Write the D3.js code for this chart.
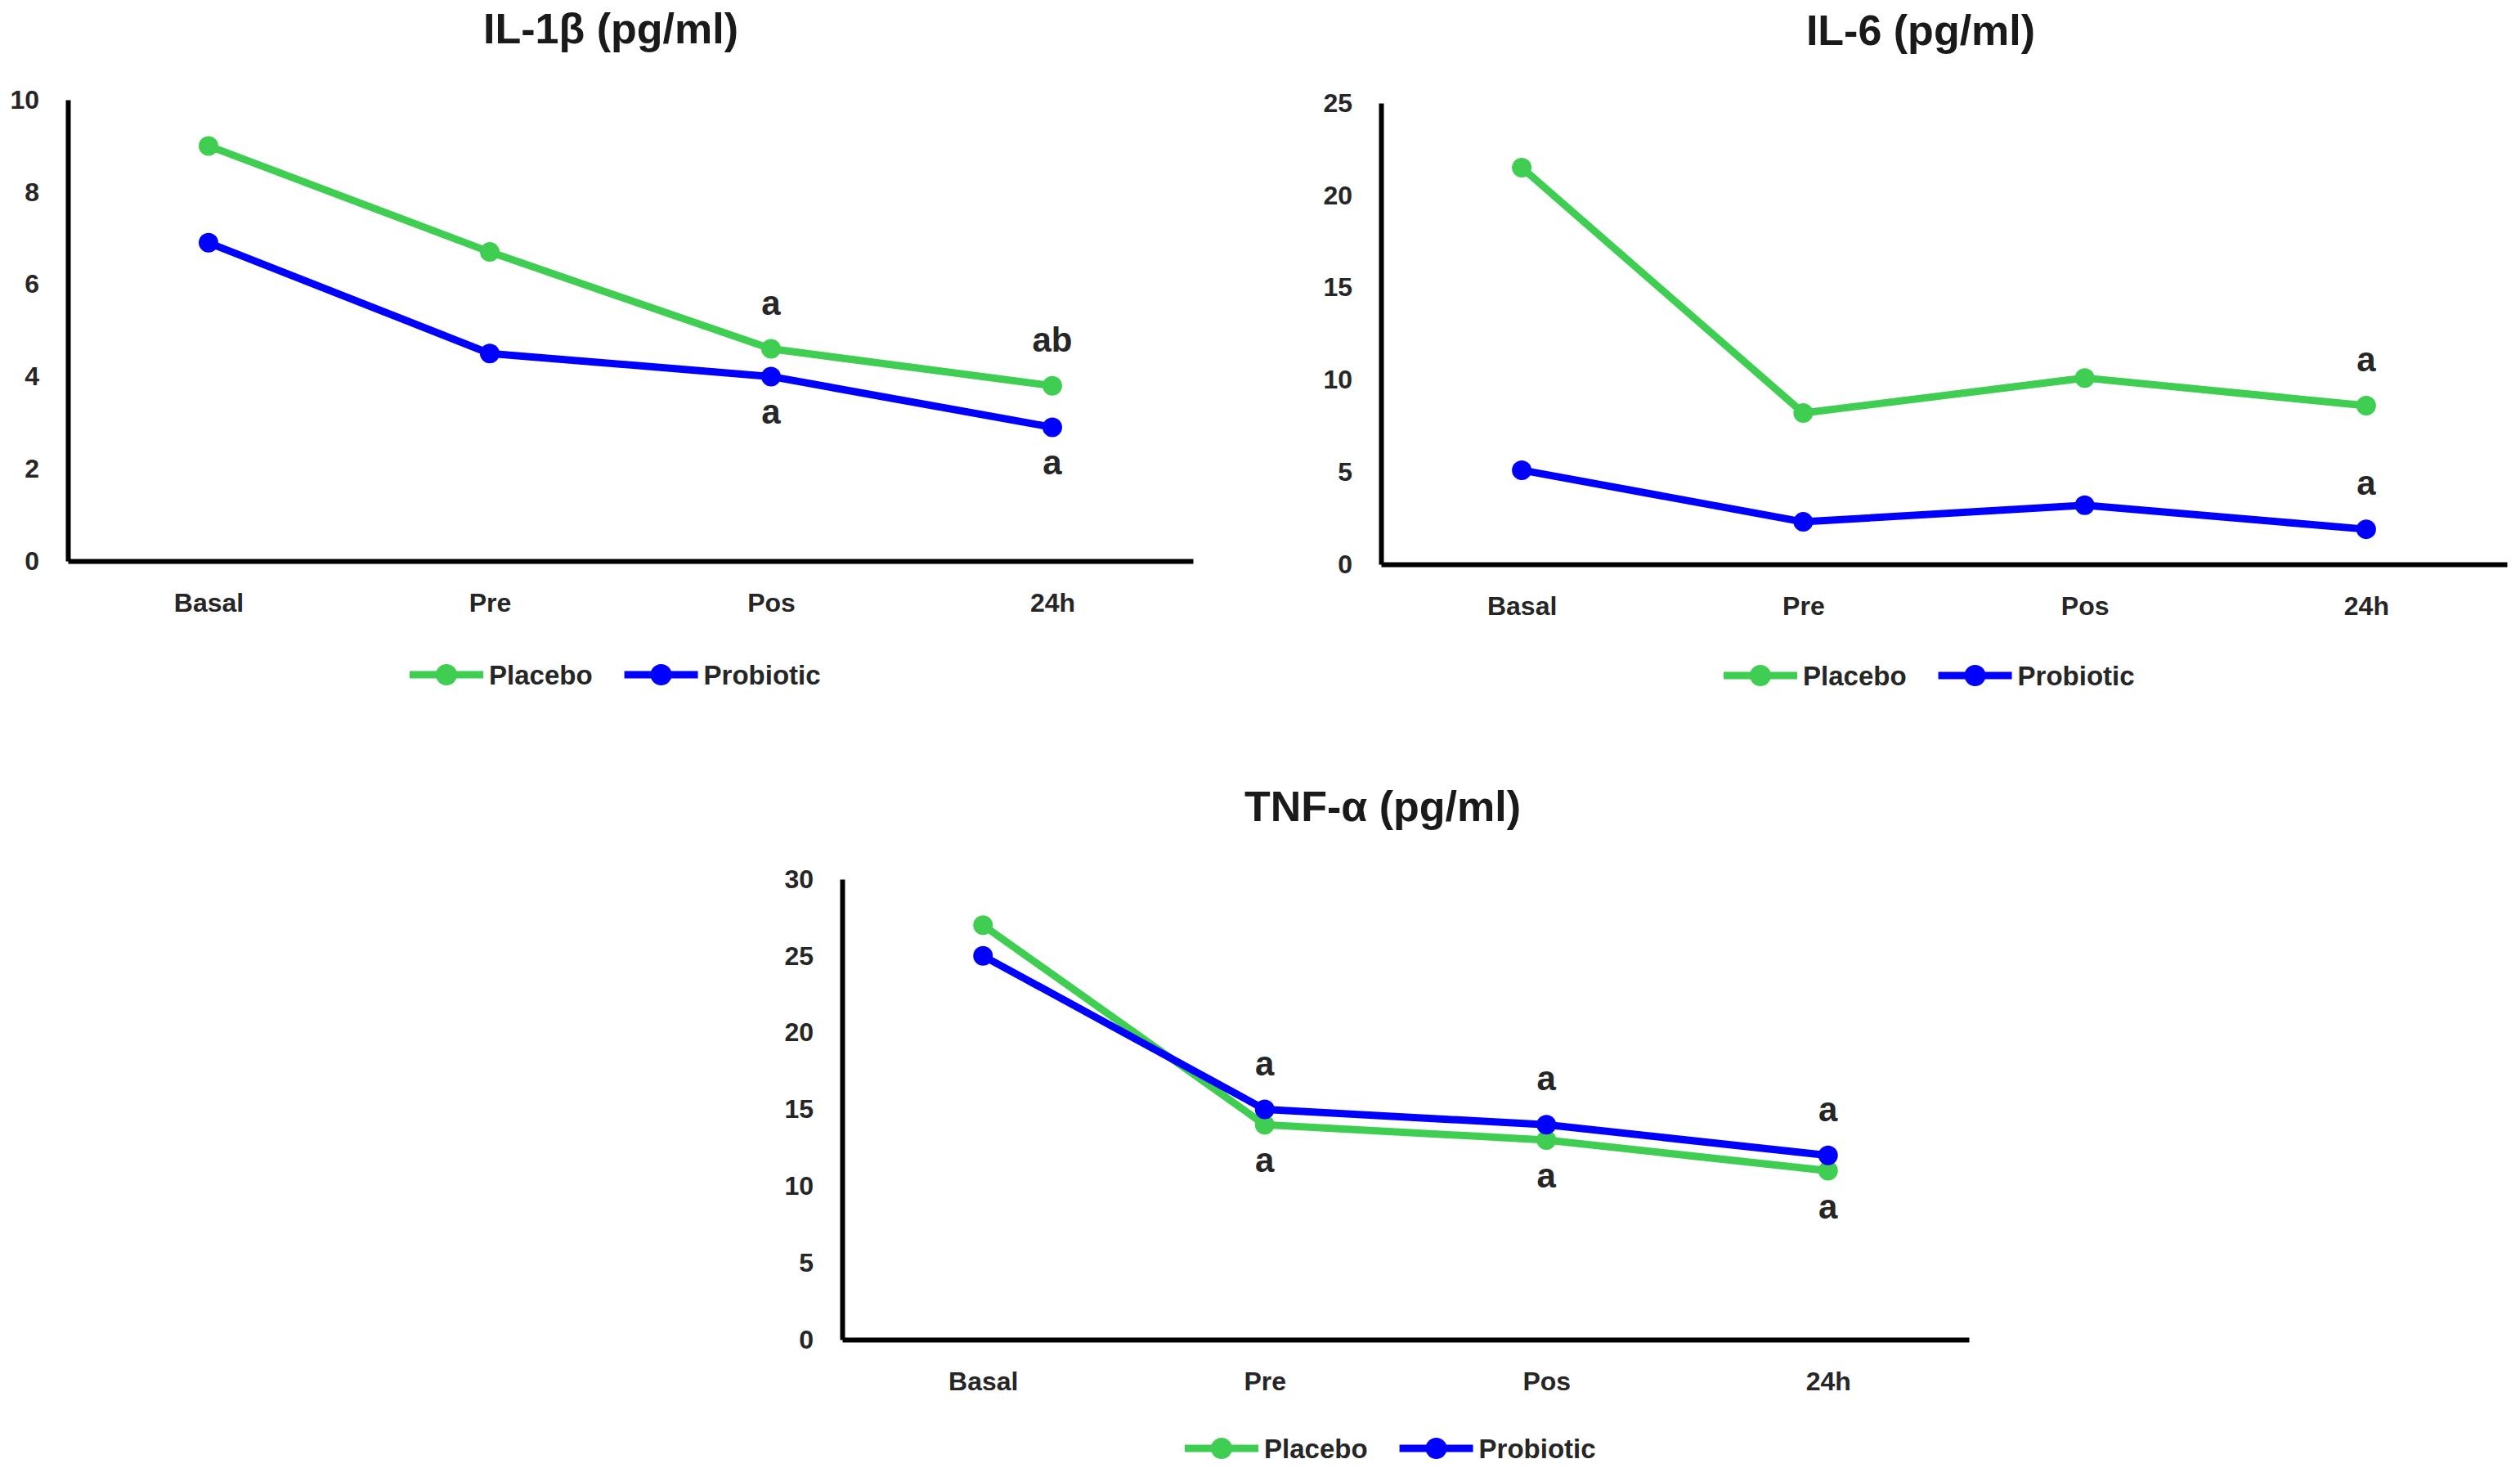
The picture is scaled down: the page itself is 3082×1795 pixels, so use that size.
<!DOCTYPE html>
<html>
<head>
<meta charset="utf-8">
<script src="https://cdn.jsdelivr.net/npm/d3@7"></script>
<style>
  body { margin: 0; background: #fff; }
  svg { display: block; }
</style>
</head>
<body>
<div id="wrapper"></div>
<script>
// values
const categories = ["Basal", "Pre", "Pos", "24h"];
const seriesNames = ["Placebo", "Probiotic"];
const seriesColors = ["#3fcd52", "#0000ff"];

const il1bPlacebo = [9.0, 6.7, 4.6, 3.8];
const il1bProbiotic = [6.9, 4.5, 4.0, 2.9];
const il1bTicks = [0, 2, 4, 6, 8, 10];
const il1bMarks = [
    { cat: "Pos", series: "Placebo", text: "a", side: "above" },
    { cat: "Pos", series: "Probiotic", text: "a", side: "below" },
    { cat: "24h", series: "Placebo", text: "ab", side: "above" },
    { cat: "24h", series: "Probiotic", text: "a", side: "below" },
];

const il6Placebo = [21.5, 8.2, 10.1, 8.6];
const il6Probiotic = [5.1, 2.3, 3.2, 1.9];
const il6Ticks = [0, 5, 10, 15, 20, 25];
const il6Marks = [
    { cat: "24h", series: "Placebo", text: "a", side: "above" },
    { cat: "24h", series: "Probiotic", text: "a", side: "above" },
];

const tnfPlacebo = [27, 14, 13, 11];
const tnfProbiotic = [25, 15, 14, 12];
const tnfTicks = [0, 5, 10, 15, 20, 25, 30];
const tnfMarks = [
    { cat: "Pre", series: "Probiotic", text: "a", side: "above" },
    { cat: "Pre", series: "Placebo", text: "a", side: "below" },
    { cat: "Pos", series: "Probiotic", text: "a", side: "above" },
    { cat: "Pos", series: "Placebo", text: "a", side: "below" },
    { cat: "24h", series: "Probiotic", text: "a", side: "above" },
    { cat: "24h", series: "Placebo", text: "a", side: "below" },
];

const panels = [
    { title: "IL-1β (pg/ml)", values: [il1bPlacebo, il1bProbiotic], ticks: il1bTicks, marks: il1bMarks,
      left: 83, right: 1459, top: 122, bottom: 686, titleX: 747, titleY: 53, legendX: 501, legendY: 825 },
    { title: "IL-6 (pg/ml)", values: [il6Placebo, il6Probiotic], ticks: il6Ticks, marks: il6Marks,
      left: 1689, right: 3066, top: 126, bottom: 690, titleX: 2349, titleY: 55, legendX: 2108, legendY: 826 },
    { title: "TNF-α (pg/ml)", values: [tnfPlacebo, tnfProbiotic], ticks: tnfTicks, marks: tnfMarks,
      left: 1030, right: 2408, top: 1075, bottom: 1638, titleX: 1691, titleY: 1004, legendX: 1449, legendY: 1771 },
];

const textColor = "#262626";
const font = "'Liberation Sans', Arial, sans-serif";
const narrowFont = "'Liberation Sans Narrow', 'Liberation Sans', sans-serif";

const svg = d3.select("#wrapper")
    .append("svg")
    .attr("width", 3082)
    .attr("height", 1795);

svg.append("rect").attr("width", 3082).attr("height", 1795).attr("fill", "#fff");

panels.forEach(p => {
    const g = svg.append("g");

    const xScale = d3.scalePoint()
        .domain(categories)
        .range([p.left, p.right])
        .padding(0.5);

    const yScale = d3.scaleLinear()
        .domain([0, d3.max(p.ticks)])
        .range([p.bottom, p.top]);

    // title
    g.append("text")
        .attr("x", p.titleX)
        .attr("y", p.titleY)
        .attr("text-anchor", "middle")
        .attr("font-family", font)
        .attr("font-weight", "bold")
        .attr("font-size", "52px")
        .attr("fill", "#1a1a1a")
        .text(p.title);

    // axes
    const yAxis = g.append("g")
        .attr("transform", `translate(${p.left},0)`)
        .call(d3.axisLeft(yScale).tickValues(p.ticks).tickSize(0).tickSizeOuter(0).tickPadding(35));

    const xAxis = g.append("g")
        .attr("transform", `translate(0,${p.bottom})`)
        .call(d3.axisBottom(xScale).tickSize(0).tickSizeOuter(0).tickPadding(39));

    [yAxis, xAxis].forEach(ax => {
        ax.select(".domain")
            .attr("stroke", "#000")
            .attr("stroke-width", 6);
        ax.selectAll("text")
            .attr("font-family", font)
            .attr("font-weight", "bold")
            .attr("font-size", "32px")
            .attr("fill", textColor);
    });

    // lines + markers
    const line = d3.line()
        .x((d, i) => xScale(categories[i]))
        .y(d => yScale(d));

    p.values.forEach((vals, s) => {
        g.append("path")
            .datum(vals)
            .attr("d", line)
            .attr("fill", "none")
            .attr("stroke", seriesColors[s])
            .attr("stroke-width", 9)
            .attr("stroke-linejoin", "round");

        g.selectAll(null)
            .data(vals)
            .enter()
            .append("circle")
            .attr("cx", (d, i) => xScale(categories[i]))
            .attr("cy", d => yScale(d))
            .attr("r", 12)
            .attr("fill", seriesColors[s]);
    });

    // significance letters
    g.selectAll(null)
        .data(p.marks)
        .enter()
        .append("text")
        .attr("x", d => xScale(d.cat))
        .attr("y", d => {
            const v = p.values[seriesNames.indexOf(d.series)][categories.indexOf(d.cat)];
            return d.side === "above" ? yScale(v) - 42 : yScale(v) + 58;
        })
        .attr("text-anchor", "middle")
        .attr("font-family", narrowFont)
        .attr("font-weight", "bold")
        .attr("font-size", "42px")
        .attr("fill", textColor)
        .text(d => d.text);

    // legend
    const legend = g.append("g")
        .attr("transform", `translate(${p.legendX},${p.legendY})`);
    let offset = 0;
    seriesNames.forEach((name, s) => {
        const item = legend.append("g").attr("transform", `translate(${offset},0)`);
        item.append("line")
            .attr("x1", 0).attr("x2", 90)
            .attr("stroke", seriesColors[s])
            .attr("stroke-width", 9);
        item.append("circle")
            .attr("cx", 45)
            .attr("r", 13)
            .attr("fill", seriesColors[s]);
        const label = item.append("text")
            .attr("x", 97)
            .attr("dy", "0.36em")
            .attr("font-family", font)
            .attr("font-weight", "bold")
            .attr("font-size", "33px")
            .attr("fill", textColor)
            .text(name);
        offset += 97 + label.node().getComputedTextLength() + 39;
    });
});
</script>
</body>
</html>
